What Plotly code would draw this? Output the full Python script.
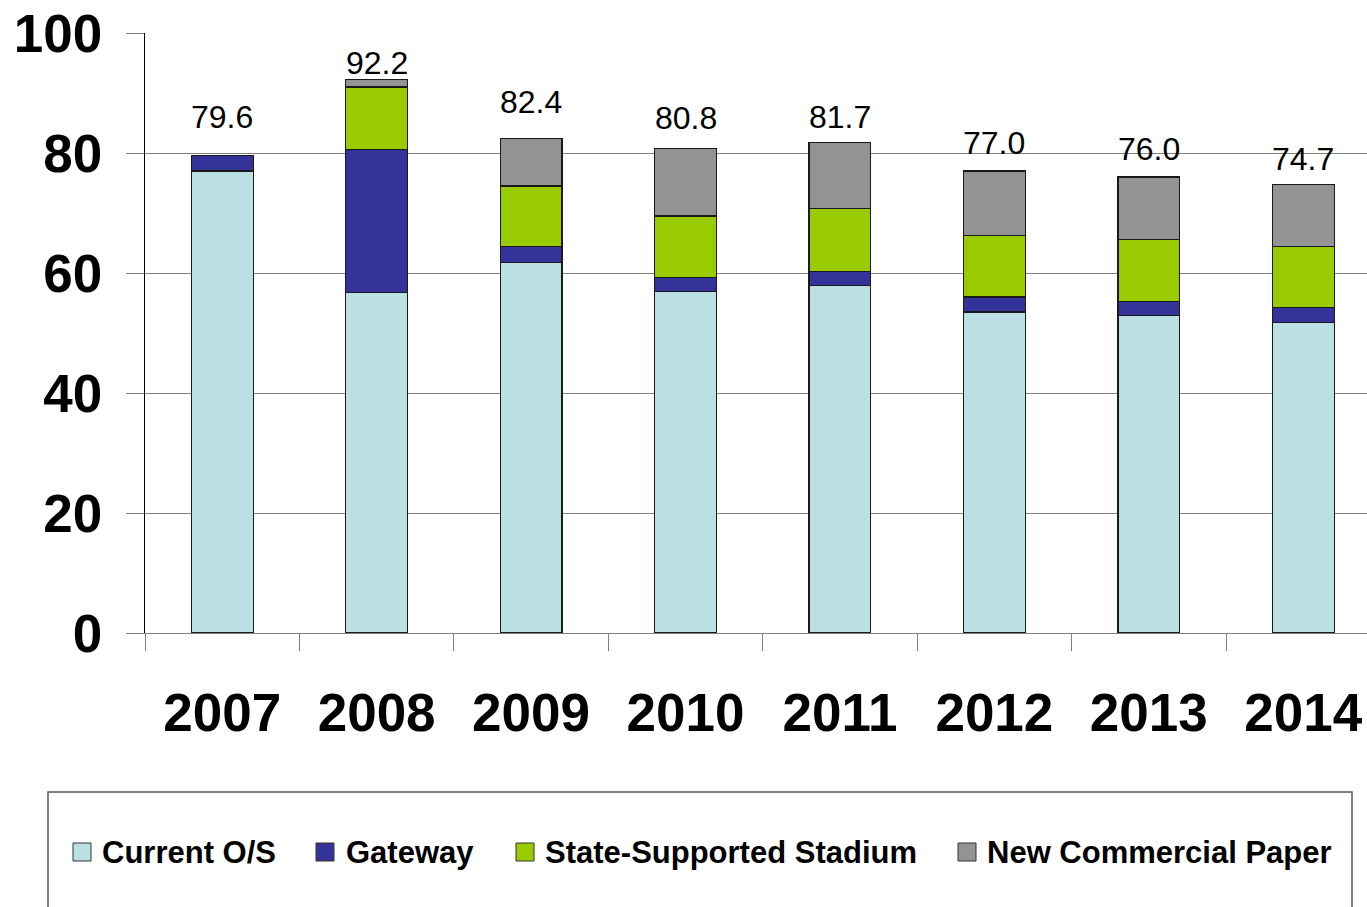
import plotly.graph_objects as go

# Debt outstanding by year, stacked by component
years = ["2007", "2008", "2009", "2010", "2011", "2012", "2013", "2014"]
current_os = [77.0, 56.7, 61.8, 56.9, 57.9, 53.5, 52.9, 51.7]
gateway = [2.6, 23.9, 2.6, 2.4, 2.4, 2.5, 2.4, 2.6]
stadium = [0.0, 10.4, 10.1, 10.2, 10.4, 10.2, 10.3, 10.1]
commercial_paper = [0.0, 1.2, 7.9, 11.3, 11.0, 10.8, 10.4, 10.3]
totals = [79.6, 92.2, 82.4, 80.8, 81.7, 77.0, 76.0, 74.7]

series_names = ["Current O/S", "Gateway", "State-Supported Stadium", "New Commercial Paper"]
series_values = [current_os, gateway, stadium, commercial_paper]
series_colors = ["#BAE0E3", "#333399", "#99CC00", "#939393"]

# vertical distance (px) from each bar top to its total label
label_offsets = [38, 17, 37, 30, 26, 28, 28, 26]

W, H = 1367, 907
ML, MR, MT, MB = 145, 0, 33, 274
PW, PH = W - ML - MR, H - MT - MB

def px_x(x):
    return (x - ML) / PW

def px_y(y):
    return (H - MB - y) / PH

FONT = "Liberation Sans, Arial, sans-serif"

fig = go.Figure()
for name, vals, color in zip(series_names, series_values, series_colors):
    fig.add_trace(go.Bar(
        x=years, y=vals, name=name,
        marker=dict(color=color, line=dict(color="#1a1a1a", width=1.2)),
        showlegend=False,
    ))

annotations = []
for i, (tot, off) in enumerate(zip(totals, label_offsets)):
    annotations.append(dict(
        x=i, y=tot, xref="x", yref="y", text=f"{tot:.1f}",
        showarrow=False, yanchor="middle", yshift=off,
        font=dict(family=FONT, size=32, color="black"),
    ))

# legend drawn as a framed row of swatches and labels
shapes = [dict(
    type="rect", xref="paper", yref="paper",
    x0=px_x(48), x1=px_x(1352), y0=px_y(792), y1=px_y(915),
    line=dict(color="#555555", width=1.5), fillcolor="rgba(0,0,0,0)", layer="below",
)]
swatch_left = [73, 316, 516, 958]
text_left = [100, 344, 543, 985]
for name, color, sx, tx in zip(series_names, series_colors, swatch_left, text_left):
    shapes.append(dict(
        type="rect", xref="paper", yref="paper",
        x0=px_x(sx), x1=px_x(sx + 18), y0=px_y(843), y1=px_y(861),
        line=dict(color="#333333", width=1), fillcolor=color,
    ))
    annotations.append(dict(
        x=px_x(tx), y=px_y(852), xref="paper", yref="paper", text=name,
        showarrow=False, xanchor="left", yanchor="middle",
        font=dict(family=FONT, size=31, color="black", weight="bold"),
    ))

fig.update_layout(
    width=W, height=H,
    margin=dict(l=ML, r=MR, t=MT, b=MB, pad=0),
    paper_bgcolor="white", plot_bgcolor="white",
    barmode="stack", bargap=0.6,
    annotations=annotations, shapes=shapes,
    showlegend=False,
)
fig.update_xaxes(
    type="category", range=[-0.5, 7.413],
    showline=True, linecolor="#808080", linewidth=1.3,
    ticks="outside", tickson="boundaries", ticklen=17, tickcolor="#808080", tickwidth=1.3,
    ticklabelstandoff=33,
    tickfont=dict(family=FONT, size=53, color="black", weight="bold"),
    showgrid=False,
)
fig.update_yaxes(
    range=[0, 100], tickvals=[0, 20, 40, 60, 80, 100],
    showline=True, linecolor="black", linewidth=1.3,
    showgrid=True, gridcolor="#808080", gridwidth=1.3,
    zeroline=False,
    ticks="outside", ticklen=18, tickcolor="#808080", tickwidth=1.3,
    ticklabelstandoff=13,
    tickfont=dict(family=FONT, size=53, color="black", weight="bold"),
)

fig.write_html("out.html")
